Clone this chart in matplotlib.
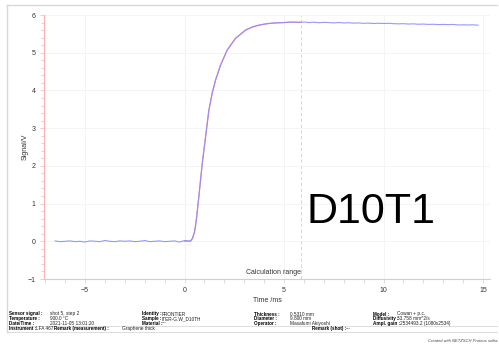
import matplotlib
matplotlib.use("Agg")
import matplotlib.pyplot as plt
from matplotlib.lines import Line2D
from matplotlib.ticker import MultipleLocator

plt.rcParams['font.family'] = ['Liberation Sans', 'DejaVu Sans']

# ---- data ----
base_t = [-6.5, -6.25, -6.0, -5.75, -5.5, -5.25, -5.0, -4.75, -4.5, -4.25, -4.0, -3.75, -3.5, -3.25,
          -3.0, -2.75, -2.5, -2.25, -2.0, -1.75, -1.5, -1.25, -1.0, -0.75, -0.5, -0.25, 0.0, 0.25]
base_v = [0.01, -0.01, 0.0, 0.01, -0.01, 0.0, -0.02, 0.01, 0.0, -0.01, 0.02, 0.0, -0.01, 0.01,
          0.0, 0.01, -0.01, 0.0, 0.02, -0.01, 0.0, 0.01, -0.01, 0.0, 0.01, -0.02, 0.02, 0.01]
rise_t = [0.3, 0.4, 0.5, 0.55, 0.6, 0.72, 0.89, 1.06, 1.22, 1.39, 1.56, 1.81, 2.14, 2.56, 3.07,
          3.4, 3.73, 4.15, 4.57, 5.0, 5.25]
rise_v = [0.01, 0.08, 0.25, 0.38, 0.6, 1.18, 2.06, 2.77, 3.47, 3.92, 4.27, 4.67, 5.07, 5.38, 5.60,
          5.68, 5.73, 5.77, 5.79, 5.80, 5.81]
plat_t = [5.5, 5.75, 6.0, 6.25, 6.5, 6.75, 7.0, 7.25, 7.5, 7.75, 8.0, 8.25, 8.5, 8.75, 9.0, 9.25,
          9.5, 9.75, 10.0, 10.25, 10.5, 10.75, 11.0, 11.25, 11.5, 11.75, 12.0, 12.25, 12.5, 12.75,
          13.0, 13.25, 13.5, 13.75, 14.0, 14.25, 14.5, 14.75]
plat_v = [5.81, 5.80, 5.815, 5.80, 5.81, 5.795, 5.805, 5.80, 5.79, 5.80, 5.79, 5.795, 5.785, 5.79,
          5.78, 5.785, 5.775, 5.78, 5.775, 5.78, 5.77, 5.765, 5.77, 5.76, 5.765, 5.755, 5.76, 5.75,
          5.755, 5.745, 5.75, 5.745, 5.75, 5.735, 5.74, 5.735, 5.74, 5.73]
fit_t = [0.0, 0.3, 0.4, 0.5, 0.6, 0.72, 0.89, 1.06, 1.22, 1.39, 1.56, 1.81, 2.14, 2.56, 3.07,
         3.4, 3.73, 4.15, 4.57, 5.0, 5.4, 5.83]
fit_v = [0.0, 0.0, 0.07, 0.24, 0.6, 1.18, 2.05, 2.78, 3.45, 3.93, 4.28, 4.67, 5.06, 5.38, 5.60,
         5.68, 5.73, 5.77, 5.79, 5.80, 5.81, 5.81]
calc_start, calc_end = 0.0, 5.83
label_text = "D10T1"

info_left = [("Sensor signal :", "shot 5, step 2"), ("Temperature :", "900.0 \u00b0C"),
             ("Date/Time :", "2021-11-05 13:01:20")]
info_mid = [("Identity :", "FRONTIER"), ("Sample :", "ITER-G.W_D10TH"), ("Material :", "---")]
info_r1 = [("Thickness :", "0.5310 mm"), ("Diameter :", "9.800 mm"), ("Operator :", "Masafumi Akiyoshi")]
info_r2 = [("Model :", "Cowan + p.c."), ("Diffusivity :", "33.758 mm^2/s"),
           ("Ampl. gain :", "2534493.2 (1080x2534)")]

W, H = 499, 344
fig = plt.figure(figsize=(W / 100, H / 100), dpi=100)

def fx(x):
    return x / W

def fy(y):
    return 1 - y / H

ax = fig.add_axes([fx(44), fy(279), fx(490) - fx(44), fy(15) - fy(279)])
ax.set_xlim(-7.06, 15.35)
ax.set_ylim(-1, 6)

meas_t = base_t + rise_t + plat_t
meas_v = base_v + rise_v + plat_v
ax.plot(fit_t, fit_v, color="#ff8c8c", lw=0.9, zorder=3)
ax.plot(meas_t, meas_v, color="#8c8cff", lw=0.8, alpha=0.9, zorder=4)

for xv in (calc_start, calc_end):
    ax.axvline(xv, color="#d0d0d0", lw=0.6, ls=(0, (4, 3)), zorder=1)

ax.xaxis.set_major_locator(MultipleLocator(5))
ax.xaxis.set_minor_locator(MultipleLocator(1))
ax.yaxis.set_major_locator(MultipleLocator(1))
ax.yaxis.set_minor_locator(MultipleLocator(0.2))
ax.grid(True, which="major", color="#f3f3f3", lw=0.6, zorder=0)

for s in ("top", "right"):
    ax.spines[s].set_visible(False)
ax.spines["left"].set_color("#ffb0b0")
ax.spines["left"].set_linewidth(0.8)
ax.spines["bottom"].set_color("#cfcfcf")
ax.spines["bottom"].set_linewidth(0.8)
ax.tick_params(axis="y", which="both", colors="#ffb0b0", labelcolor="#333333", labelsize=5, pad=3)
ax.tick_params(axis="y", which="major", length=3, width=0.5)
ax.tick_params(axis="y", which="minor", length=2, width=0.5)
ax.tick_params(axis="x", which="both", colors="#cfcfcf", labelcolor="#333333", labelsize=5, pad=3)
ax.tick_params(axis="x", which="major", length=3, width=0.5)
ax.tick_params(axis="x", which="minor", length=3, width=0.5)

ax.set_xlabel("Time /ms", fontsize=5, color="#333333")
ax.set_ylabel("Signal/V", fontsize=5, color="#333333")
ax.xaxis.set_label_coords(0.5, (279 - 300) / 264, transform=ax.transAxes)
ax.yaxis.set_label_coords((25 - 44) / 446, 0.5, transform=ax.transAxes)
ax.xaxis.label.set_va("center")
ax.yaxis.label.set_va("center")

ax.text(calc_end, -0.93, "Calculation range", ha="right", va="bottom", fontsize=5, color="#333333")
ax.text(9.35, 0.77, label_text, ha="center", va="center", fontsize=31, color="black")

# outer frame
fig.add_artist(Line2D([fx(7), fx(497)], [fy(5), fy(5)], color="#d8d8d8", lw=1))
fig.add_artist(Line2D([fx(7), fx(7)], [fy(5), fy(332)], color="#d8d8d8", lw=1))
fig.add_artist(Line2D([fx(7), fx(497)], [fy(325.5), fy(325.5)], color="#d8d8d8", lw=0.6))
fig.add_artist(Line2D([fx(7), fx(497)], [fy(332), fy(332)], color="#d8d8d8", lw=0.6))

fsl = 3.3
fsv = 3.4
rows_y = [314, 318.7, 323.2]

def block(items, xl, xvs):
    for (lab, val), yy, xv in zip(items, rows_y, xvs):
        fig.text(fx(xl), fy(yy), lab, fontsize=fsl, fontweight="bold", va="center", ha="left")
        fig.text(fx(xv), fy(yy), val, fontsize=fsv, va="center", ha="left", color="#222222")

block(info_left, 9, [50.5, 50.5, 50.5])
block(info_mid, 142.5, [162, 162, 162])
block(info_r1, 254, [290, 290, 290])
block(info_r2, 373, [397, 397, 400])

yy = 328.8
fig.text(fx(9), fy(yy), "Instrument :", fontsize=fsl, fontweight="bold", va="center")
fig.text(fx(36.5), fy(yy), "LFA 467", fontsize=fsv, va="center", color="#222222")
fig.text(fx(54), fy(yy), "Remark (measurement) :", fontsize=fsl, fontweight="bold", va="center")
fig.text(fx(121.5), fy(yy), "Graphene thick", fontsize=fsv, va="center", color="#222222")
fig.text(fx(311.5), fy(yy), "Remark (shot) :", fontsize=fsl, fontweight="bold", va="center")
fig.text(fx(346), fy(yy), "---", fontsize=fsv, va="center", color="#222222")
fig.text(fx(497), fy(340.5), "Created with NETZSCH Proteus softw", fontsize=3.0, style="italic",
         va="center", ha="right", color="#444444")

fig.savefig("out.png", dpi=100)
